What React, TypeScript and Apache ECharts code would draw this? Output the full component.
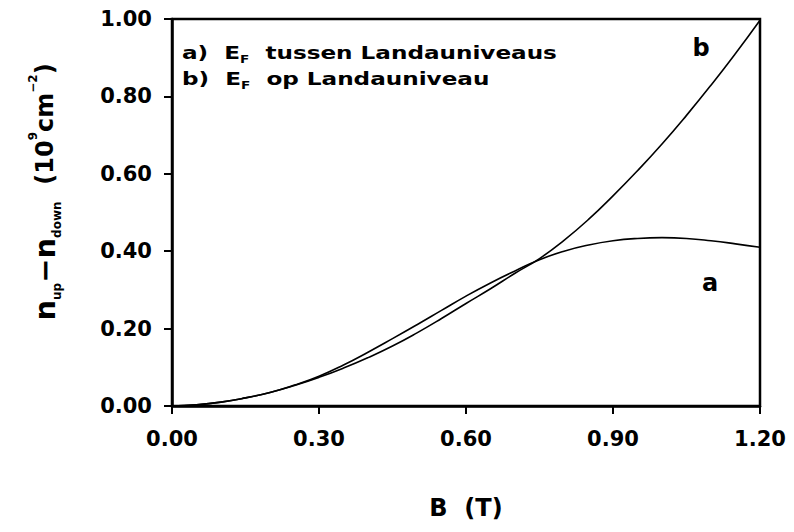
import React, { useEffect, useRef } from "react";
import * as echarts from "echarts";

const fieldB = [0, 0.05, 0.1, 0.15, 0.2, 0.25, 0.3, 0.35, 0.4, 0.45, 0.5, 0.55, 0.6, 0.65, 0.7, 0.75, 0.8, 0.85, 0.9, 0.95, 1.0, 1.05, 1.1, 1.15, 1.2];
const curveA = [0, 0.003, 0.01, 0.021, 0.035, 0.054, 0.077, 0.106, 0.139, 0.174, 0.21, 0.247, 0.284, 0.318, 0.349, 0.378, 0.4, 0.416, 0.427, 0.433, 0.435, 0.433, 0.427, 0.419, 0.41];
const curveB = [0, 0.003, 0.01, 0.021, 0.035, 0.053, 0.074, 0.098, 0.125, 0.155, 0.189, 0.226, 0.265, 0.303, 0.343, 0.381, 0.428, 0.482, 0.543, 0.608, 0.677, 0.751, 0.829, 0.911, 0.997];
const xTicks = { min: 0, max: 1.2, step: 0.3 };
const yTicks = { min: 0, max: 1.0, step: 0.2 };
const legendLines = ["tussen Landauniveaus", "op Landauniveau"];

const FONT = "DejaVu Sans";

export default function App() {
  const ref = useRef<HTMLDivElement>(null);
  useEffect(() => {
    if (!ref.current) return;
    const chart = echarts.init(ref.current, null, { renderer: "svg" });
    const subRich = {
      m: { fontFamily: FONT, fontWeight: "bold", fontSize: 17, lineHeight: 24, color: "#000" },
      s: { fontFamily: FONT, fontWeight: "bold", fontSize: 10, lineHeight: 24, verticalAlign: "bottom", color: "#000" },
    };
    chart.setOption({
      animation: false,
      backgroundColor: "#fff",
      grid: { left: 172, right: 34, top: 19, bottom: 126, show: true, borderColor: "#000", borderWidth: 2.5, containLabel: false },
      xAxis: {
        type: "value",
        min: xTicks.min,
        max: xTicks.max,
        interval: xTicks.step,
        name: "B  (T)",
        nameLocation: "middle",
        nameGap: 90,
        nameTextStyle: { fontFamily: FONT, fontWeight: "bold", fontSize: 24, color: "#000" },
        axisLine: { lineStyle: { color: "#000", width: 2.5 } },
        axisTick: { inside: false, length: 8, lineStyle: { color: "#000", width: 2 } },
        axisLabel: { margin: 22, fontFamily: FONT, fontWeight: "bold", fontSize: 21, color: "#000", formatter: (v: number) => v.toFixed(2) },
        splitLine: { show: false },
      },
      yAxis: {
        type: "value",
        min: yTicks.min,
        max: yTicks.max,
        interval: yTicks.step,
        axisLine: { lineStyle: { color: "#000", width: 2.5 } },
        axisTick: { inside: false, length: 8, lineStyle: { color: "#000", width: 2 } },
        axisLabel: { margin: 20, fontFamily: FONT, fontWeight: "bold", fontSize: 21, color: "#000", formatter: (v: number) => v.toFixed(2) },
        splitLine: { show: false },
      },
      series: [
        {
          name: "a",
          type: "line",
          smooth: true,
          showSymbol: false,
          data: fieldB.map((x, i) => [x, curveA[i]]),
          lineStyle: { color: "#000", width: 1.6 },
        },
        {
          name: "b",
          type: "line",
          smooth: true,
          showSymbol: false,
          data: fieldB.map((x, i) => [x, curveB[i]]),
          lineStyle: { color: "#000", width: 1.6 },
        },
      ],
      graphic: [
        {
          type: "text",
          x: 182,
          y: 53,
          scaleX: 1.36,
          style: {
            text: "{m|a)  E}{s|F}{m|  " + legendLines[0] + "}",
            rich: subRich,
            verticalAlign: "middle",
          },
        },
        {
          type: "text",
          x: 182,
          y: 79,
          scaleX: 1.36,
          style: {
            text: "{m|b)  E}{s|F}{m|  " + legendLines[1] + "}",
            rich: subRich,
            verticalAlign: "middle",
          },
        },
        {
          type: "text",
          x: 701,
          y: 48,
          style: { text: "b", fontFamily: FONT, fontWeight: "bold", fontSize: 24, fill: "#000", align: "center", verticalAlign: "middle" },
        },
        {
          type: "text",
          x: 710,
          y: 283,
          style: { text: "a", fontFamily: FONT, fontWeight: "bold", fontSize: 24, fill: "#000", align: "center", verticalAlign: "middle" },
        },
        {
          type: "text",
          x: 45,
          y: 192,
          rotation: Math.PI / 2,
          style: {
            text: "{n|n}{sub|up}{n|−n}{sub|down}{p|  (10}{sup|9}{p|cm}{sup|−2}{p|)}",
            align: "center",
            verticalAlign: "middle",
            rich: {
              n: { fontFamily: FONT, fontWeight: "bold", fontSize: 29, lineHeight: 36, color: "#000" },
              sub: { fontFamily: FONT, fontWeight: "bold", fontSize: 12, lineHeight: 36, verticalAlign: "bottom", color: "#000" },
              p: { fontFamily: FONT, fontWeight: "bold", fontSize: 24, lineHeight: 36, color: "#000" },
              sup: { fontFamily: FONT, fontWeight: "bold", fontSize: 12, lineHeight: 36, verticalAlign: "top", color: "#000" },
            },
          },
        },
      ],
    });
    return () => chart.dispose();
  }, []);
  return <div ref={ref} style={{ position: "fixed", left: 0, top: 0, width: 794, height: 532 }} />;
}
